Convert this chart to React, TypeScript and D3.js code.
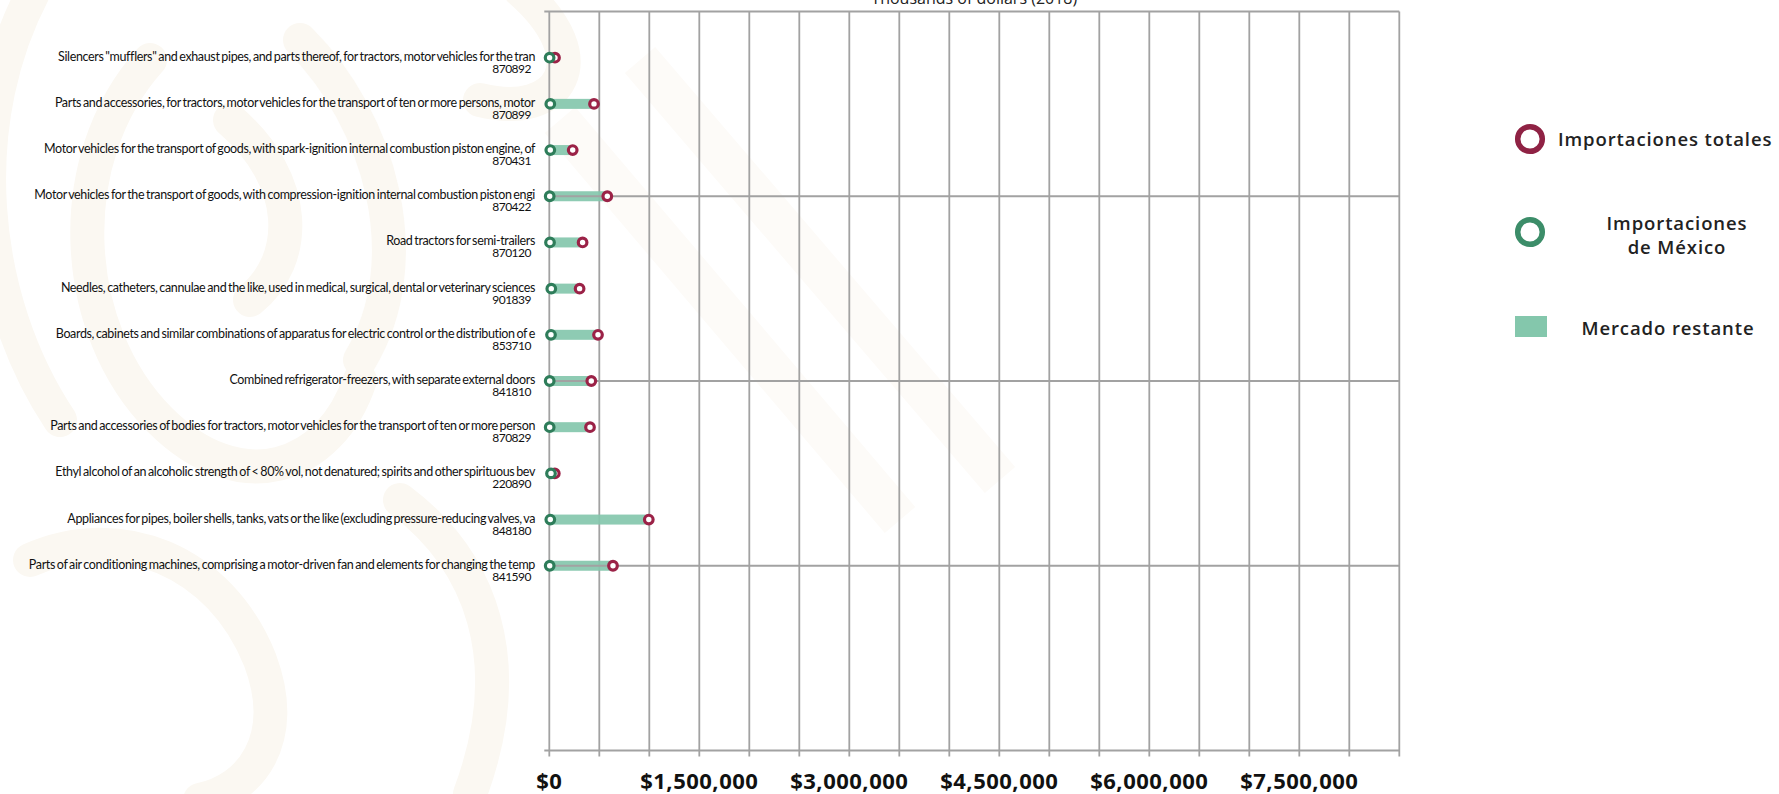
import React from "react";
import * as d3 from "d3";

const productNames = [
  'Silencers "mufflers" and exhaust pipes, and parts thereof, for tractors, motor vehicles for the tran',
  "Parts and accessories, for tractors, motor vehicles for the transport of ten or more persons, motor",
  "Motor vehicles for the transport of goods, with spark-ignition internal combustion piston engine, of",
  "Motor vehicles for the transport of goods, with compression-ignition internal combustion piston engi",
  "Road tractors for semi-trailers",
  "Needles, catheters, cannulae and the like, used in medical, surgical, dental or veterinary sciences",
  "Boards, cabinets and similar combinations of apparatus for electric control or the distribution of e",
  "Combined refrigerator-freezers, with separate external doors",
  "Parts and accessories of bodies for tractors, motor vehicles for the transport of ten or more person",
  "Ethyl alcohol of an alcoholic strength of < 80% vol, not denatured; spirits and other spirituous bev",
  "Appliances for pipes, boiler shells, tanks, vats or the like (excluding pressure-reducing valves, va",
  "Parts of air conditioning machines, comprising a motor-driven fan and elements for changing the temp",
];
const productCodes = [
  "870892", "870899", "870431", "870422", "870120", "901839",
  "853710", "841810", "870829", "220890", "848180", "841590",
];
const mexicoImports = [3000, 10000, 10000, 4000, 7000, 20000, 17000, 4000, 4000, 17000, 10000, 4000];
const totalImports = [57000, 447000, 234000, 580000, 333000, 303000, 487000, 420000, 407000, 55000, 995000, 637000];
const xTickLabels = [0, 1500000, 3000000, 4500000, 6000000, 7500000];
const xGridValues = d3.range(0, 8500001, 500000);
const yGridValues = [0, 4, 8, 12, 16];
const chartTitle = "Thousands of dollars (2018)";
const legendTotal = "Importaciones totales";
const legendMexico = ["Importaciones", "de México"];
const legendRest = "Mercado restante";

const RED = "#9b2247";
const GREEN = "#2e7d5a";
const MINT = "#84c7ac";
const GRID = "#a2a2a2";

export default function App() {
  const x = d3.scaleLinear().domain([0, 8500000]).range([549.3, 1399.3]);
  const y = d3.scaleLinear().domain([0, 16]).range([11.5, 750.5]);
  const fmt = d3.format("$,");
  const rows = productNames.map((name, i) => ({
    name,
    code: productCodes[i],
    mex: mexicoImports[i],
    tot: totalImports[i],
    pos: i + 1,
  }));

  return (
    <svg
      width={1779}
      height={794}
      style={{ position: "fixed", left: 0, top: 0, background: "#fff" }}
    >
      {/* faint watermark */}
      <g fill="none" stroke="#fbf8f2" strokeWidth={34} strokeLinecap="round">
        <path d="M40,-20 C-40,120 -20,300 60,420" />
        <path d="M150,60 C60,160 70,330 160,420 C240,500 330,470 360,380" />
        <path d="M300,40 C380,120 420,260 360,360" />
        <path d="M30,560 C120,520 220,560 260,660 C290,740 250,790 200,800" />
        <path d="M400,500 C480,560 520,660 470,794" />
        <path d="M230,120 C300,180 300,260 250,300" />
        <path d="M520,-10 C600,60 560,120 480,100" />
      </g>
      <g fill="none" stroke="#fdfbf8" strokeWidth={40}>
        <path d="M560,120 L900,520" />
        <path d="M640,60 L1000,480" />
      </g>

      {/* title */}
      <text
        x={(x(0) + x(8500000)) / 2}
        y={4}
        textAnchor="middle"
        fontFamily="'Open Sans', sans-serif"
        fontSize={16}
        fill="#222"
      >
        {chartTitle}
      </text>

      {/* vertical grid */}
      {xGridValues.map((v) => (
        <line
          key={"vx" + v}
          x1={x(v)}
          x2={x(v)}
          y1={y(0)}
          y2={y(16) + 6}
          stroke={GRID}
          strokeWidth={1.8}
        />
      ))}

      {/* bars */}
      {rows.map((r) => (
        <rect
          key={"bar" + r.code}
          x={x(r.mex)}
          y={y(r.pos) - 5}
          width={x(r.tot) - x(r.mex)}
          height={10}
          fill={MINT}
          opacity={0.92}
        />
      ))}

      {/* horizontal grid */}
      {yGridValues.map((v) => (
        <line
          key={"hy" + v}
          x1={x(0) - 5}
          x2={x(8500000)}
          y1={y(v)}
          y2={y(v)}
          stroke={GRID}
          strokeWidth={1.8}
        />
      ))}

      {/* points */}
      {rows.map((r) => (
        <g key={"pt" + r.code}>
          <circle cx={x(r.tot)} cy={y(r.pos)} r={4.3} fill="#fff" stroke={RED} strokeWidth={3.2} />
          <circle cx={x(r.mex)} cy={y(r.pos)} r={4.3} fill="#fff" stroke={GREEN} strokeWidth={3.2} />
        </g>
      ))}

      {/* category labels */}
      {rows.map((r) => (
        <g key={"lab" + r.code} fontFamily="Lato, sans-serif" fill="#111">
          <text
            x={535}
            y={y(r.pos) + 3}
            textAnchor="end"
            fontSize={12.5}
            letterSpacing={-0.36}
            wordSpacing={-1}
          >
            {r.name}
          </text>
          <text x={531} y={y(r.pos) + 15} textAnchor="end" fontSize={12} letterSpacing={-0.5}>
            {r.code}
          </text>
        </g>
      ))}

      {/* x tick labels */}
      {xTickLabels.map((v) => (
        <text
          key={"xt" + v}
          x={x(v)}
          y={789}
          textAnchor="middle"
          fontFamily="'Open Sans', sans-serif"
          fontWeight={700}
          fontSize={22}
          letterSpacing={0.5}
          fill="#111"
        >
          {fmt(v)}
        </text>
      ))}

      {/* legend */}
      <g fontFamily="'Open Sans', sans-serif" fontSize={18.5} fontWeight={600} letterSpacing={0.9} fill="#222">
        <circle cx={1530} cy={139} r={12.3} fill="#fff" stroke="#8f2244" strokeWidth={5.5} />
        <text x={1558} y={145.5}>{legendTotal}</text>
        <circle cx={1530} cy={232} r={12.3} fill="#fff" stroke="#3c8d69" strokeWidth={5.5} />
        <text x={1677} y={229.5} textAnchor="middle">{legendMexico[0]}</text>
        <text x={1677} y={253.5} textAnchor="middle">{legendMexico[1]}</text>
        <rect x={1515} y={316} width={32} height={21} fill={MINT} />
        <text x={1668} y={334.5} textAnchor="middle">{legendRest}</text>
      </g>
    </svg>
  );
}
